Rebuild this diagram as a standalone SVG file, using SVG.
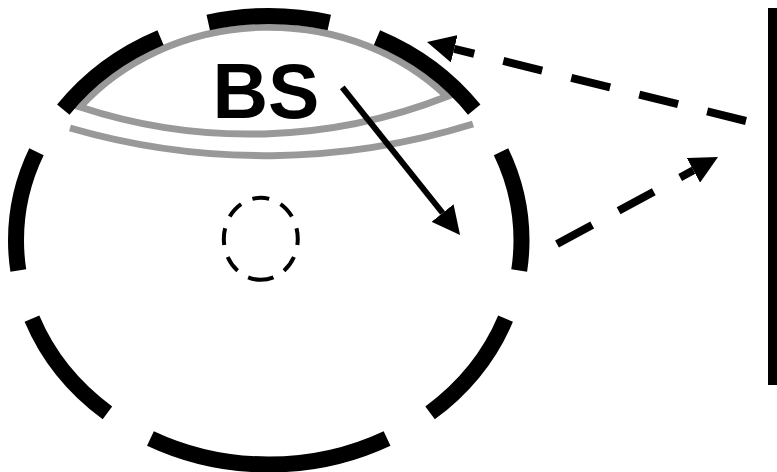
<svg xmlns="http://www.w3.org/2000/svg" width="777" height="472" viewBox="0 0 777 472">
  <style>
    .gray { fill: none; stroke: #999999; stroke-width: 7; }
    .big { fill: none; stroke: #000; stroke-width: 16; stroke-dasharray: 122 50; }
    .small { fill: none; stroke: #000; stroke-width: 4; stroke-dasharray: 17 12.5; stroke-dashoffset: 4; }
    .dashed { fill: none; stroke: #000; stroke-width: 8; stroke-dasharray: 40 30; }
    .solid { fill: none; stroke: #000; stroke-width: 6; }
    .label { font-family: "Liberation Sans", Arial, sans-serif; font-weight: bold; font-size: 77px; fill: #000; }
  </style>
  <defs>
    <marker id="ah" markerUnits="userSpaceOnUse" viewBox="0 0 28 28" markerWidth="28" markerHeight="28" refX="0" refY="14" orient="auto">
      <path d="M0,0 L28,14 L0,28 Z" fill="#000"/>
    </marker>
  </defs>

  <g id="lens">
    <path class="gray" d="M80,107 A241.75 213.25 0 0 1 447,96.5 A540 540 0 0 1 80,107 Z"/>
    <path class="gray" d="M70,128 A700 700 0 0 0 473,124"/>
  </g>

  <g id="outer-ellipse">
    <path class="big" pathLength="1498" d="M268.75,464.5 A252.75 224.25 0 0 1 268.75,16 A252.75 224.25 0 0 1 268.75,464.5"/>
  </g>

  <g id="small-circle">
    <path class="small" pathLength="245" d="M260.8,279.8 A37 41 0 0 1 260.8,197.8 A37 41 0 0 1 260.8,279.8"/>
  </g>

  <g id="bs-label">
    <text class="label" x="266" y="118" text-anchor="middle">BS</text>
  </g>

  <g id="bar">
    <rect x="768" y="8" width="10" height="377" fill="#000"/>
  </g>

  <g id="connectors">
    <path class="solid" d="M342.3,87.3 L442.6,213" marker-end="url(#ah)"/>
    <path class="dashed" d="M746,121 L454.2,48.8" marker-end="url(#ah)"/>
    <path class="dashed" d="M557,244 L693.4,170.3" marker-end="url(#ah)"/>
  </g>
</svg>
